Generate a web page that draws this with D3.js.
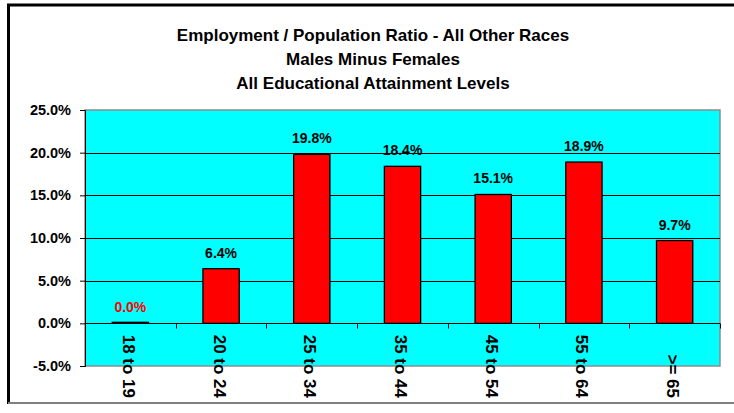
<!DOCTYPE html>
<html>
<head>
<meta charset="utf-8">
<script src="https://cdn.jsdelivr.net/npm/d3@7"></script>
<style>
  body { margin: 0; background: white; }
  svg { display: block; }
</style>
</head>
<body>
<svg id="chart"></svg>
<script>
// Data
let categories = ["18 to 19", "20 to 24", "25 to 34", "35 to 44", "45 to 54", "55 to 64", ">= 65"];
let values = [0.0, 6.4, 19.8, 18.4, 15.1, 18.9, 9.7];
let yTicks = [-5, 0, 5, 10, 15, 20, 25];
let titleLines = [
  "Employment / Population Ratio - All Other Races",
  "Males Minus Females",
  "All Educational Attainment Levels"
];

// Colors
let cyan = "#00ffff";
let red = "#ff0000";
let font = "'Liberation Sans', Arial, sans-serif";

drawChart();

function drawChart() {
  let width = 734;
  let height = 413;
  let plot = {left: 85, right: 720, top: 110, bottom: 366};

  let svg = d3.select("#chart")
    .attr("width", width)
    .attr("height", height);

  // chart frame: heavy black top/left, grey bottom
  svg.append("line")
    .attr("x1", 7).attr("x2", width)
    .attr("y1", 5).attr("y2", 5)
    .attr("stroke", "black")
    .attr("stroke-width", 3);
  svg.append("line")
    .attr("x1", 8.5).attr("x2", 8.5)
    .attr("y1", 4).attr("y2", 404)
    .attr("stroke", "black")
    .attr("stroke-width", 3);
  svg.append("line")
    .attr("x1", 8).attr("x2", width)
    .attr("y1", 403).attr("y2", 403)
    .attr("stroke", "#808080")
    .attr("stroke-width", 2);

  // title
  svg.append("g")
    .selectAll("text")
    .data(titleLines)
    .join("text")
      .attr("x", 373)
      .attr("y", (d, i) => 41 + i * 24)
      .attr("text-anchor", "middle")
      .attr("font-family", font)
      .attr("font-weight", "bold")
      .attr("font-size", 17)
      .attr("fill", "black")
      .text(d => d);

  let xax = d3.scaleBand()
    .domain(categories)
    .range([plot.left, plot.right])
    .paddingInner(0.6)
    .paddingOuter(0.3);
  let yax = d3.scaleLinear()
    .domain([-5, 25])
    .range([plot.bottom, plot.top]);

  // plot area
  svg.append("rect")
    .attr("x", plot.left)
    .attr("y", plot.top)
    .attr("width", plot.right - plot.left)
    .attr("height", plot.bottom - plot.top)
    .attr("fill", cyan)
    .attr("stroke", "#8c8c8c")
    .attr("stroke-width", 1.5);

  // gridlines
  svg.append("g")
    .selectAll("line")
    .data(yTicks.filter(d => d > -5 && d < 25))
    .join("line")
      .attr("x1", plot.left)
      .attr("x2", plot.right)
      .attr("y1", d => Math.round(yax(d)) + 0.5)
      .attr("y2", d => Math.round(yax(d)) + 0.5)
      .attr("stroke", "black")
      .attr("stroke-width", 1);

  // bars
  svg.append("g")
    .selectAll("rect")
    .data(values)
    .join("rect")
      .attr("x", (d, i) => xax(categories[i]))
      .attr("width", xax.bandwidth())
      .attr("y", d => yax(0) - Math.max(yax(0) - yax(d), 1))
      .attr("height", d => Math.max(yax(0) - yax(d), 1))
      .attr("fill", red)
      .attr("stroke", "black")
      .attr("stroke-width", 1.3);

  // value labels
  svg.append("g")
    .selectAll("text")
    .data(values)
    .join("text")
      .attr("x", (d, i) => xax(categories[i]) + xax.bandwidth() / 2)
      .attr("y", d => yax(d) - 11)
      .attr("text-anchor", "middle")
      .attr("font-family", font)
      .attr("font-weight", "bold")
      .attr("font-size", 14)
      .attr("fill", d => d == 0 ? red : "black")
      .text(d => d.toFixed(1) + "%");

  // y axis
  let yAxis = d3.axisLeft(yax)
    .tickValues(yTicks)
    .tickSize(5)
    .tickPadding(9)
    .tickFormat(d => d.toFixed(1) + "%");
  let gy = svg.append("g")
    .attr("transform", `translate(${plot.left}, 0)`)
    .call(yAxis);
  gy.select(".domain").attr("stroke", "black");
  gy.selectAll("text")
    .attr("font-family", font)
    .attr("font-weight", "bold")
    .attr("font-size", 14.5)
    .attr("fill", "black");

  // x axis at zero
  let y0 = Math.round(yax(0)) + 0.5;
  svg.append("line")
    .attr("x1", plot.left)
    .attr("x2", plot.right)
    .attr("y1", y0)
    .attr("y2", y0)
    .attr("stroke", "black");
  let step = xax.step();
  let bounds = categories.map((c, i) => xax(c) - xax.paddingInner() * step / 2 + step)
  svg.append("g")
    .selectAll("line")
    .data([plot.left].concat(bounds))
    .join("line")
      .attr("x1", d => Math.round(d) + 0.5)
      .attr("x2", d => Math.round(d) + 0.5)
      .attr("y1", y0)
      .attr("y2", y0 + 5)
      .attr("stroke", "black");

  // category labels, rotated, bottom-aligned
  svg.append("g")
    .selectAll("text")
    .data(categories)
    .join("text")
      .attr("transform", d => `translate(${xax(d) + xax.bandwidth() / 2 - 1.5}, 398) rotate(90)`)
      .attr("dy", "0.35em")
      .attr("text-anchor", "end")
      .attr("font-family", font)
      .attr("font-weight", "bold")
      .attr("font-size", 17)
      .attr("fill", "black")
      .text(d => d);
}
</script>
</body>
</html>
